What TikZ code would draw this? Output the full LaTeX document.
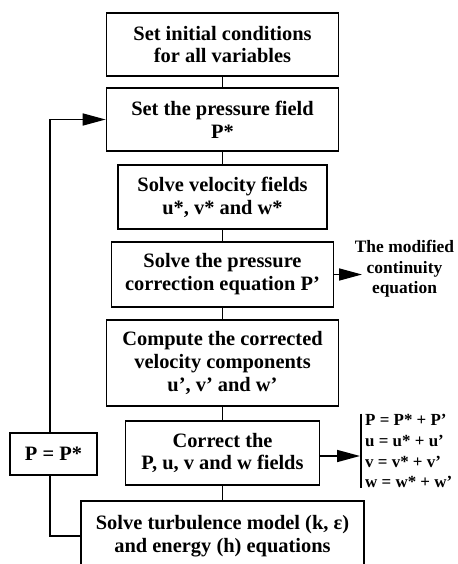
\documentclass[tikz,border=0pt]{standalone}
\usepackage{fontspec}
\setmainfont{Liberation Serif}
\usetikzlibrary{arrows.meta}
\begin{document}
\begin{tikzpicture}[x=1bp,y=-1bp,
  stepbox/.style={draw, line width=1.6bp, inner sep=0pt, align=center,
    font=\fontsize{20.5}{23}\selectfont\bfseries},
  link/.style={line width=1.5bp},
  arr/.style={line width=1.6bp, -{Triangle[length=23bp,width=12bp]}},
  note/.style={align=center, inner sep=0pt, font=\fontsize{17.5}{20.5}\selectfont\bfseries},
  eqs/.style={align=left, inner sep=0pt, font=\fontsize{17}{21}\selectfont\bfseries},
]
\useasboundingbox (0,0) rectangle (458,564);
\clip (0,0) rectangle (458,564);
\node[stepbox, minimum width=232bp, minimum height=63bp] (b1) at (222.5,44.5) {Set initial conditions\\for all variables};
\node[stepbox, minimum width=232bp, minimum height=63bp] (b2) at (222.5,119.5) {Set the pressure field\\P*};
\node[stepbox, minimum width=209bp, minimum height=64bp] (b3) at (222.5,197) {Solve velocity fields\\u*, v* and w*};
\node[stepbox, minimum width=222bp, minimum height=65bp] (b4) at (222.5,274.5) {Solve the pressure\\correction equation P’};
\node[stepbox, minimum width=232bp, minimum height=86bp] (b5) at (222.5,363) {Compute the corrected\\velocity components\\u’, v’ and w’};
\node[stepbox, minimum width=194bp, minimum height=64bp] (b6) at (222.5,453) {Correct the\\P, u, v and w fields};
\node[stepbox, minimum width=283bp, minimum height=70bp] (b7) at (222.5,536) {Solve turbulence model (k, ε)\\and energy (h) equations};
\node[stepbox, minimum width=87bp, minimum height=42bp] (pp) at (53.5,454) {P = P*};
\draw[link] (b1) -- (b2);
\draw[link] (b2) -- (b3);
\draw[link] (b3) -- (b4);
\draw[link] (b4) -- (b5);
\draw[link] (b5) -- (b6);
\draw[link] (b6) -- (b7);
\coordinate (lx) at (50,0);
\draw[link] (b7.west) -| (pp.south -| lx);
\draw[arr] (pp.north -| lx) |- (b2.west);
\node[note] (mod) at (404.5,269) {The modified\\continuity\\equation};
\coordinate (t4) at (362,274.5);
\draw[arr] (b4.east) -- (t4);
\node[eqs, anchor=west] (eq) at (365,451) {P = P* + P’\\u = u* + u’\\v = v* + v’\\w = w* + w’};
\coordinate (t6) at (360,456);
\draw[arr] (b6.east |- t6) -- (t6);
\draw[link] ([xshift=-4bp]eq.north west) -- ([xshift=-4bp]eq.south west);
\end{tikzpicture}
\end{document}
